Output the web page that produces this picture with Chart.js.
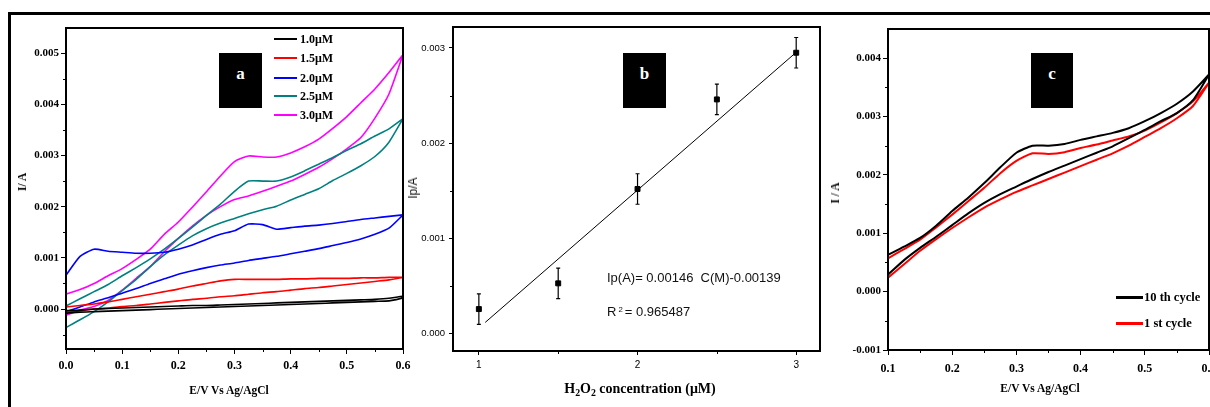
<!DOCTYPE html>
<html lang="en">
<head>
<meta charset="UTF-8">
<title>H2O2 sensing - CV and calibration</title>
<script src="https://cdn.jsdelivr.net/npm/chart.js"></script>
<style>
  html,body{margin:0;padding:0;background:#fff;}
  body{width:1210px;height:407px;position:relative;overflow:hidden;font-family:'Liberation Serif','Times New Roman',serif;color:#000;}
  .frame{position:absolute;left:8px;top:12px;width:1300px;height:500px;border:3px solid #000;}
  canvas{position:absolute;top:0;}
  #chartA{left:0;}
  #chartB{left:405px;}
  #chartC{left:825px;}
  .txt{position:absolute;white-space:nowrap;transform:translate(-50%,-50%);}
  .bold{font-family:'Liberation Serif',serif;font-weight:bold;font-size:11.5px;}
  .sans{font-family:'Liberation Sans',Arial,sans-serif;font-size:13px;color:#111;}
  .vert{transform:translate(-50%,-50%) rotate(-90deg);}
  .tag{position:absolute;top:53px;width:43px;height:55px;background:#000;color:#fff;font:bold 17px 'Liberation Serif',serif;text-align:center;line-height:42px;}
  .legline{position:absolute;height:2px;}
  .legtxt{position:absolute;white-space:nowrap;transform:translateY(-50%);font-family:'Liberation Serif',serif;font-weight:bold;font-size:12px;}
  sub{font-size:70%;vertical-align:-3px;}
  .sup{font-size:60%;vertical-align:4px;margin:0 2px;}
</style>
</head>
<body>
<div class="frame"></div>
<canvas id="chartA" width="420" height="407"></canvas>
<canvas id="chartB" width="420" height="407"></canvas>
<canvas id="chartC" width="385" height="407"></canvas>

<div class="tag" style="left:219px;">a</div>
<div class="tag" style="left:623px;">b</div>
<div class="tag" style="left:1031px;width:42px;">c</div>

<div class="txt bold vert" style="left:22px;top:182px;">I/ A</div>
<div class="txt bold" style="left:229px;top:390px;">E/V Vs Ag/AgCl</div>

<div class="txt sans vert" style="left:413px;top:188px;font-size:12px;">Ip/A</div>
<div class="txt bold" style="left:640px;top:389px;font-size:14px;">H<sub>2</sub>O<sub>2</sub> concentration (μM)</div>
<div class="sans" style="position:absolute;left:607px;top:270px;white-space:nowrap;">Ip(A)= 0.00146 &nbsp;C(M)-0.00139</div>
<div class="sans" style="position:absolute;left:607px;top:304px;white-space:nowrap;">R<span class="sup">2</span>= 0.965487</div>

<div class="txt bold vert" style="left:835px;top:193px;">I / A</div>
<div class="txt bold" style="left:1040px;top:388px;">E/V Vs Ag/AgCl</div>

<div id="legendA"></div>
<div id="legendC"></div>

<script>
// ---- panel a : CVs at different H2O2 concentrations ----
const potentialA = [0, 0.025, 0.05, 0.075, 0.1, 0.125, 0.15, 0.175, 0.2, 0.225, 0.25, 0.275, 0.3,
                    0.325, 0.35, 0.375, 0.4, 0.425, 0.45, 0.475, 0.5, 0.525, 0.55, 0.575, 0.6];
const concLabels = ['1.0μM', '1.5μM', '2.0μM', '2.5μM', '3.0μM'];
const concColors = ['#000000', '#ff0000', '#0000ff', '#008080', '#ff00ff'];

const anodic10 = [-0.00003, -0.00002, 0, 0.00001, 0.00002, 0.00003, 0.00004, 0.00005, 0.00006, 0.00007, 0.00007, 0.00008, 0.00009,
                  0.0001, 0.00011, 0.00012, 0.00013, 0.00014, 0.00015, 0.00016, 0.00017, 0.00018, 0.00019, 0.00021, 0.00025];
const cathodic10 = [-0.00008, -0.00006, -0.00005, -0.00004, -0.00003, -0.00002, -0.00001, 0, 0.00001, 0.00002, 0.00003, 0.00004, 0.00005,
                    0.00006, 0.00007, 0.00008, 0.00009, 0.0001, 0.00011, 0.00012, 0.00013, 0.00014, 0.00015, 0.00016, 0.00022];
const anodic15 = [0.00004, 0.00007, 0.0001, 0.00014, 0.00019, 0.00024, 0.00029, 0.00034, 0.00039, 0.00045, 0.0005, 0.00055, 0.00058,
                  0.00058, 0.00058, 0.00058, 0.00059, 0.00059, 0.0006, 0.0006, 0.0006, 0.00061, 0.00061, 0.00062, 0.00062];
const cathodic15 = [-0.00006, -0.00003, 0, 0.00002, 0.00005, 0.00007, 0.0001, 0.00013, 0.00016, 0.00019, 0.00021, 0.00024, 0.00026,
                    0.00029, 0.00032, 0.00034, 0.00037, 0.0004, 0.00042, 0.00045, 0.00048, 0.00051, 0.00054, 0.00057, 0.00062];
const anodic20 = [0.00066, 0.00103, 0.00117, 0.00113, 0.00111, 0.00109, 0.00109, 0.00111, 0.00117, 0.00125, 0.00136, 0.00146, 0.00153,
                  0.00166, 0.00165, 0.00156, 0.00159, 0.00162, 0.00164, 0.00167, 0.00171, 0.00175, 0.00178, 0.00181, 0.00184];
const cathodic20 = [-0.00005, 0.00004, 0.00014, 0.00022, 0.00031, 0.0004, 0.0005, 0.00059, 0.00068, 0.00075, 0.00081, 0.00086, 0.0009,
                    0.00095, 0.00099, 0.00103, 0.00108, 0.00113, 0.00118, 0.00124, 0.0013, 0.00137, 0.00146, 0.00158, 0.00184];
const anodic25 = [0.00006, 0.0002, 0.00034, 0.00048, 0.00065, 0.00081, 0.00098, 0.00117, 0.00138, 0.0016, 0.00183, 0.00205, 0.0023,
                  0.0025, 0.0025, 0.0025, 0.00258, 0.0027, 0.00283, 0.00296, 0.0031, 0.00323, 0.00338, 0.00352, 0.00372];
const cathodic25 = [-0.00036, -0.00021, -0.00005, 0.00014, 0.00036, 0.00058, 0.00083, 0.00106, 0.00125, 0.00143, 0.00157, 0.00168, 0.00177,
                    0.00186, 0.00194, 0.00201, 0.00213, 0.00224, 0.00235, 0.00251, 0.00265, 0.0028, 0.00298, 0.00326, 0.00372];
const anodic30 = [0.00029, 0.00038, 0.0005, 0.00065, 0.00079, 0.00097, 0.00117, 0.00146, 0.0017, 0.00199, 0.00229, 0.0026, 0.00288,
                  0.00299, 0.00297, 0.00297, 0.00305, 0.00317, 0.00332, 0.00353, 0.00376, 0.00403, 0.0043, 0.00462, 0.00497];
const cathodic30 = [-0.00012, -0.00002, 0.00005, 0.00017, 0.00037, 0.0006, 0.00083, 0.00112, 0.00138, 0.00162, 0.00183, 0.002, 0.00214,
                    0.00221, 0.0023, 0.0024, 0.0025, 0.00263, 0.00277, 0.00294, 0.00313, 0.00335, 0.00373, 0.0042, 0.00497];

const xTicksA = [0, 0.1, 0.2, 0.3, 0.4, 0.5, 0.6];
const xMinorA = [0.05, 0.15, 0.25, 0.35, 0.45, 0.55];
const yTicksA = [0, 0.001, 0.002, 0.003, 0.004, 0.005];
const yMinorA = [-0.0005, 0.0005, 0.0015, 0.0025, 0.0035, 0.0045];

// ---- panel b : calibration ----
const concB = [1, 1.5, 2, 2.5, 3];
const peakB = [0.00026, 0.00053, 0.00152, 0.00246, 0.00295];
const errB = [0.00016, 0.00016, 0.00016, 0.00016, 0.00016];
const fitX = [1.04, 2.99];
const fitY = [0.00012, 0.00294];
const xTicksB = [1, 2, 3];
const xMinorB = [1.5, 2.5];
const yTicksB = [0, 0.001, 0.002, 0.003];
const yMinorB = [0.0005, 0.0015, 0.0025];

// ---- panel c : stability, 1st vs 10th cycle ----
const potentialC = [0.1, 0.125, 0.15, 0.175, 0.2, 0.225, 0.25, 0.275, 0.3, 0.325, 0.35,
                    0.375, 0.4, 0.425, 0.45, 0.475, 0.5, 0.525, 0.55, 0.575, 0.6];
const cycleLabels = ['10 th cycle', '1 st cycle'];
const cycleColors = ['#000000', '#ff0000'];
const anodicC10 = [0.00063, 0.00077, 0.00092, 0.00113, 0.00138, 0.00161, 0.00186, 0.00213, 0.00238, 0.0025, 0.0025,
                   0.00253, 0.0026, 0.00266, 0.00272, 0.0028, 0.00292, 0.00306, 0.00322, 0.00343, 0.00372];
const cathodicC10 = [0.00029, 0.00054, 0.00075, 0.00094, 0.00114, 0.00134, 0.00152, 0.00167, 0.0018, 0.00193, 0.00205,
                     0.00216, 0.00227, 0.00238, 0.00249, 0.00263, 0.00277, 0.00292, 0.00306, 0.00328, 0.00372];
const anodicC1 = [0.00057, 0.00073, 0.00089, 0.0011, 0.00132, 0.00155, 0.00178, 0.00203, 0.00224, 0.00237, 0.00236,
                  0.00239, 0.00246, 0.00252, 0.00259, 0.00266, 0.00276, 0.0029, 0.00306, 0.00326, 0.00358];
const cathodicC1 = [0.00024, 0.00047, 0.0007, 0.0009, 0.00109, 0.00127, 0.00144, 0.00158, 0.00171, 0.00182, 0.00193,
                    0.00204, 0.00215, 0.00226, 0.00237, 0.0025, 0.00265, 0.0028, 0.00297, 0.00318, 0.00358];
const xTicksC = [0.1, 0.2, 0.3, 0.4, 0.5, 0.6];
const xMinorC = [0.15, 0.25, 0.35, 0.45, 0.55];
const yTicksC = [-0.001, 0, 0.001, 0.002, 0.003, 0.004];
const yMinorC = [-0.0005, 0.0005, 0.0015, 0.0025, 0.0035];

const serifBold = { family: "'Liberation Serif', 'Times New Roman', serif", size: 12, weight: 'bold' };
const sansSmall = { family: "'Liberation Sans', Arial, sans-serif", size: 10 };

// forward scan along the upper branch, then back along the lower one
function loop(pot, up, down) {
  const fwd = pot.map((e, i) => ({ x: e, y: up[i] }));
  const back = pot.map((e, i) => ({ x: e, y: down[i] })).reverse();
  return fwd.concat(back);
}

function fixed(size) {
  return s => {
    if (s.isHorizontal()) s.height = size; else s.width = size;
    s.paddingLeft = s.paddingRight = s.paddingTop = s.paddingBottom = 0;
  };
}

function axis(min, max, ticks, digits, font, pad, size) {
  return {
    type: 'linear', min, max,
    afterBuildTicks: s => { s.ticks = ticks.map(value => ({ value })); },
    afterFit: fixed(size),
    ticks: { callback: v => Number(v).toFixed(digits), font, color: '#000', padding: pad, autoSkip: false, maxRotation: 0 },
    grid: { drawOnChartArea: false, drawTicks: true, tickLength: 5, tickColor: '#000', tickWidth: 1 },
    border: { display: false }
  };
}

// box round the plot and the short minor ticks
function framePlugin(minorX, minorY) {
  return {
    id: 'frame',
    afterDraw(chart) {
      const { ctx, chartArea: a, scales } = chart;
      ctx.save();
      ctx.strokeStyle = '#000';
      ctx.lineWidth = 1;
      minorX.forEach(v => {
        const px = Math.round(scales.x.getPixelForValue(v)) + 0.5;
        ctx.beginPath(); ctx.moveTo(px, a.bottom); ctx.lineTo(px, a.bottom + 3); ctx.stroke();
      });
      minorY.forEach(v => {
        const py = Math.round(scales.y.getPixelForValue(v)) + 0.5;
        ctx.beginPath(); ctx.moveTo(a.left - 3, py); ctx.lineTo(a.left, py); ctx.stroke();
      });
      ctx.lineWidth = 2;
      ctx.strokeRect(a.left, a.top, a.right - a.left, a.bottom - a.top);
      ctx.restore();
    }
  };
}

const common = { responsive: false, animation: false, devicePixelRatio: 1,
  plugins: { legend: { display: false }, tooltip: { enabled: false } } };

// panel a
const seriesA = [[anodic10, cathodic10], [anodic15, cathodic15], [anodic20, cathodic20], [anodic25, cathodic25], [anodic30, cathodic30]];
new Chart(document.getElementById('chartA'), {
  type: 'scatter',
  data: {
    datasets: seriesA.map((s, i) => ({
      label: concLabels[i], data: loop(potentialA, s[0], s[1]),
      showLine: true, borderColor: concColors[i], borderWidth: 1.6, pointRadius: 0, tension: 0.2
    }))
  },
  options: { ...common,
    layout: { padding: { left: 0, top: 28, right: 17, bottom: 0 } },
    scales: {
      x: axis(0, 0.6, xTicksA, 1, serifBold, 5, 58),
      y: axis(-0.00078, 0.00549, yTicksA, 3, { ...serifBold, size: 11 }, 2, 66)
    }
  },
  plugins: [framePlugin(xMinorA, yMinorA)]
});

// panel b
const errorBars = {
  id: 'errorBars',
  afterDatasetsDraw(chart) {
    const { ctx, scales: { x, y } } = chart;
    ctx.save();
    ctx.strokeStyle = '#000';
    ctx.lineWidth = 1.2;
    concB.forEach((c, i) => {
      const px = x.getPixelForValue(c);
      const top = y.getPixelForValue(peakB[i] + errB[i]);
      const bot = y.getPixelForValue(peakB[i] - errB[i]);
      ctx.beginPath();
      ctx.moveTo(px, top); ctx.lineTo(px, bot);
      ctx.moveTo(px - 2, top); ctx.lineTo(px + 2, top);
      ctx.moveTo(px - 2, bot); ctx.lineTo(px + 2, bot);
      ctx.stroke();
    });
    ctx.restore();
  }
};
new Chart(document.getElementById('chartB'), {
  type: 'scatter',
  data: {
    datasets: [
      { label: 'fit', data: fitX.map((v, i) => ({ x: v, y: fitY[i] })), showLine: true,
        borderColor: '#000', borderWidth: 1, pointRadius: 0 },
      { label: 'Ip', data: concB.map((v, i) => ({ x: v, y: peakB[i] })),
        pointStyle: 'rect', pointRadius: 3.5, backgroundColor: '#000', borderColor: '#000' }
    ]
  },
  options: { ...common,
    layout: { padding: { left: 0, top: 27, right: 3, bottom: 0 } },
    scales: {
      x: { ...axis(0.837, 3.15, xTicksB, 0, sansSmall, 4, 56), grid: { drawOnChartArea: false, tickLength: 4, tickColor: '#000' } },
      y: { ...axis(-0.00018, 0.00322, yTicksB, 3, { ...sansSmall, size: 9.5 }, 4, 48), grid: { drawOnChartArea: false, tickLength: 4, tickColor: '#000' } }
    }
  },
  plugins: [errorBars, framePlugin(xMinorB, yMinorB)]
});

// panel c
const seriesC = [[anodicC10, cathodicC10], [anodicC1, cathodicC1]];
new Chart(document.getElementById('chartC'), {
  type: 'scatter',
  data: {
    datasets: seriesC.map((s, i) => ({
      label: cycleLabels[i], data: loop(potentialC, s[0], s[1]),
      showLine: true, borderColor: cycleColors[i], borderWidth: 2, pointRadius: 0, tension: 0.2
    }))
  },
  options: { ...common,
    layout: { padding: { left: 0, top: 29, right: 1, bottom: 0 } },
    scales: {
      x: axis(0.1, 0.6, xTicksC, 1, serifBold, 7, 57),
      y: axis(-0.001, 0.0045, yTicksC, 3, { ...serifBold, size: 11 }, 2, 63)
    }
  },
  plugins: [framePlugin(xMinorC, yMinorC)]
});

// legends as html text
const legRowsA = [38.5, 58, 77.5, 96, 115];
document.getElementById('legendA').innerHTML = concLabels.map((t, i) =>
  `<div class="legline" style="left:274px;width:23px;top:${legRowsA[i] - 1}px;background:${concColors[i]}"></div>` +
  `<div class="legtxt" style="left:300px;top:${legRowsA[i]}px">${t}</div>`).join('');
const legRowsC = [297, 323];
document.getElementById('legendC').innerHTML = cycleLabels.map((t, i) =>
  `<div class="legline" style="left:1116px;width:27px;height:3px;top:${legRowsC[i] - 1}px;background:${cycleColors[i]}"></div>` +
  `<div class="legtxt" style="left:1144px;top:${legRowsC[i]}px;font-size:12.5px">${t}</div>`).join('');
</script>
</body>
</html>
